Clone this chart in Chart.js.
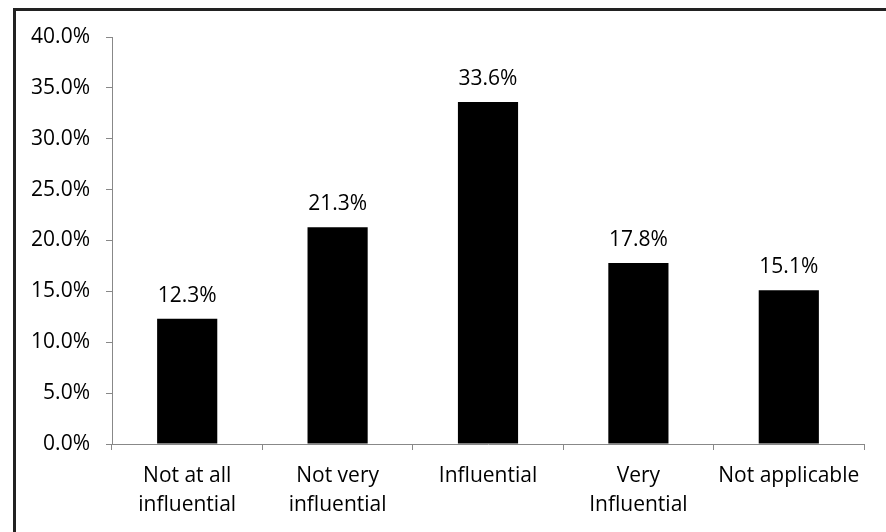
<!DOCTYPE html>
<html>
<head>
<meta charset="utf-8">
<script src="https://cdn.jsdelivr.net/npm/chart.js@4/dist/chart.umd.min.js"></script>
<style>
  html, body { margin: 0; padding: 0; background: #fff; }
  #wrap { position: relative; width: 886px; height: 532px; overflow: hidden; }
  #frame {
    position: absolute; left: 13px; top: 8px; width: 900px; height: 600px;
    border-left: 3px solid #222; border-top: 3px solid #222;
  }
  canvas { position: absolute; left: 0; top: 0; }
</style>
</head>
<body>
<div id="wrap">
  <div id="frame"></div>
  <canvas id="graphicInfluence" width="886" height="532"></canvas>
</div>
<script>
// datos del grafico
const categories = [
  ["Not at all", "influential"],
  ["Not very", "influential"],
  "Influential",
  ["Very", "Influential"],
  "Not applicable",
];
const percentages = [12.3, 21.3, 33.6, 17.8, 15.1];
const yMin = 0;
const yMax = 40;
const yStep = 5;

// etiquetas encima de las barras
const barLabels = {
  id: "barLabels",
  afterDatasetsDraw(chart) {
    const ctx = chart.ctx;
    const meta = chart.getDatasetMeta(0);
    ctx.save();
    ctx.font = "21px 'Open Sans'";
    ctx.fillStyle = "#000";
    ctx.textAlign = "center";
    ctx.textBaseline = "alphabetic";
    meta.data.forEach((bar, i) => {
      ctx.fillText(percentages[i].toFixed(1) + "%", bar.x, bar.y - 17);
    });
    ctx.restore();
  },
};

const chrt = document.getElementById("graphicInfluence").getContext("2d");
new Chart(chrt, {
  type: "bar",
  data: {
    labels: categories,
    datasets: [
      {
        label: "Influence",
        data: percentages,
        backgroundColor: "#000",
        borderWidth: 0,
        barPercentage: 0.4,
        categoryPercentage: 1,
      },
    ],
  },
  options: {
    responsive: false,
    animation: false,
    layout: {
      padding: { left: 0, top: 37, right: 22, bottom: 0 },
    },
    plugins: {
      legend: { display: false },
      tooltip: { enabled: false },
    },
    scales: {
      x: {
        offset: true,
        grid: {
          offset: true,
          drawOnChartArea: false,
          drawTicks: true,
          tickLength: 6,
          color: "#888",
        },
        border: { color: "#888", width: 1 },
        ticks: {
          color: "#000",
          padding: 12,
          maxRotation: 0,
          autoSkip: false,
          font: { family: "'Open Sans'", size: 21, lineHeight: 1.38 },
        },
        afterFit(scale) {
          scale.height = 88;
        },
      },
      y: {
        min: yMin,
        max: yMax,
        ticks: {
          stepSize: yStep,
          color: "#000",
          padding: 16,
          font: { family: "'Open Sans'", size: 21 },
          callback: (v) => v.toFixed(1) + "%",
        },
        grid: {
          drawOnChartArea: false,
          drawTicks: true,
          tickLength: 6,
          color: "#888",
        },
        border: { color: "#888", width: 1 },
        afterFit(scale) {
          scale.width = 112;
        },
      },
    },
  },
  plugins: [barLabels],
});
</script>
</body>
</html>
